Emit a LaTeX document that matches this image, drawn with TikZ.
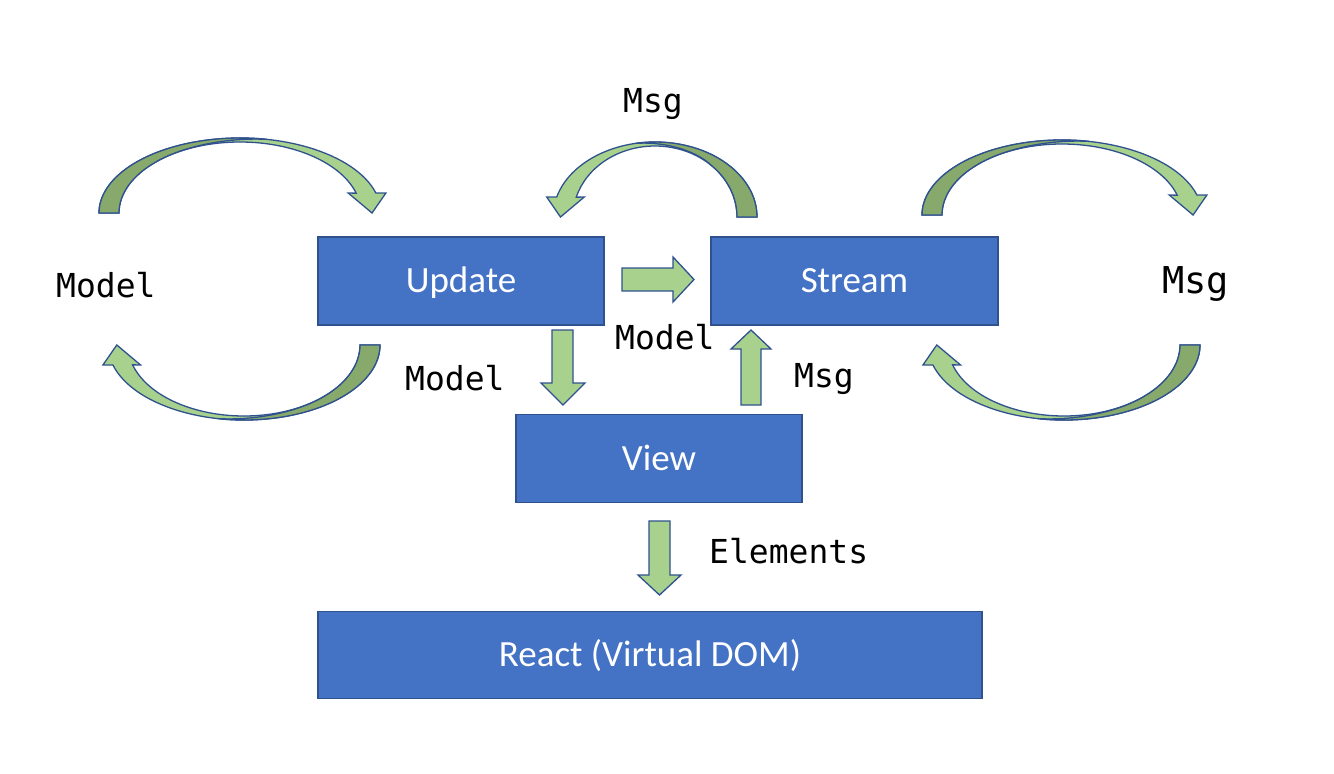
\documentclass[tikz,border=0pt]{standalone}
\usepackage{fontspec}
\setmainfont{Carlito}
\newfontfamily\monofnt{DejaVu Sans Mono}
\definecolor{boxfill}{HTML}{4472C4}
\definecolor{boxline}{HTML}{2F528F}
\definecolor{lightg}{HTML}{A9D18E}
\definecolor{darkg}{HTML}{87A96C}
\tikzset{
  procbox/.style={draw=boxline, fill=boxfill, line width=1.5pt, text=white,
    font=\fontsize{37}{44}\selectfont, text height=23.5pt, text depth=0pt,
    inner sep=0pt, anchor=center},
  lbl/.style={font=\monofnt\fontsize{33}{40}\selectfont, anchor=base west, inner sep=0pt},
  blockarr/.style={draw=boxline, fill=lightg, line width=1.3pt, line join=miter},
  curvlight/.style={draw=boxline, fill=lightg, line width=1.3pt, line join=miter},
  curvdark/.style={draw=boxline, fill=darkg, line width=1.3pt, line join=miter},
}
% curved arrow: #1,#2 tail outer point, #3,#4 direction signs, #5 radius
\newcommand{\curvarrow}[5]{%
  \pgfmathsetmacro{\Ro}{#5}%
  \pgfmathsetmacro{\Ri}{#5-20}%
  \pgfmathsetmacro{\xo}{#5*1.9637}%
  \pgfmathsetmacro{\xin}{#5+0.9603*(#5-20)}%
  \pgfmathsetmacro{\bl}{\xin-8}%
  \pgfmathsetmacro{\br}{\xo+10}%
  \pgfmathsetmacro{\tp}{(\xo+\xin)/2+6}%
  \pgfmathsetmacro{\xb}{#5+0.1908*#5}%
  \pgfmathsetmacro{\xc}{#5-0.6947*(#5-20)}%
  \pgfmathsetmacro{\cax}{0.957*#5}%
  \pgfmathsetmacro{\cbx}{0.624*#5}%
  \begin{scope}[shift={(#1,#2)}, xscale=#3, yscale=#4]
    \filldraw[curvlight] (20,0)
      arc[start angle=180, end angle=343.8, x radius=\Ri, y radius=71]
      -- (\bl,-20) -- (\tp,0) -- (\br,-20) -- (\xo,-20)
      arc[start angle=344.53, end angle=180, x radius=\Ro, y radius=75] -- cycle;
    \filldraw[curvdark] (0,0)
      arc[start angle=180, end angle=281, x radius=\Ro, y radius=75]
      .. controls (\cax,-75.5) and (\cbx,-69) .. (\xc,-51.1)
      arc[start angle=226, end angle=180, x radius=\Ri, y radius=71] -- cycle;
  \end{scope}
}
\begin{document}
\begin{tikzpicture}[x=1pt,y=-1pt]
\useasboundingbox (0,0) rectangle (1334,774);
\fill[white] (0,0) rectangle (1334,774);

% boxes
\node[procbox, minimum width=286, minimum height=88] (update) at (461,281) {Update};
\node[procbox, minimum width=287, minimum height=88] (stream) at (854.5,281) {Stream};
\node[procbox, minimum width=286, minimum height=88] (view) at (659,458.5) {View};
\node[procbox, minimum width=664, minimum height=87] (react) at (650,655) {React (Virtual DOM)};

% straight block arrows
% Update -> Stream
\draw[blockarr] (622,268) -- (673,268) -- (673,257) -- (694,279.5) -- (673,302) -- (673,291) -- (622,291) -- cycle;
% Update -> View
\draw[blockarr] (552,330) -- (573,330) -- (573,383) -- (585,383) -- (563,405) -- (541,383) -- (552,383) -- cycle;
% View -> Stream
\draw[blockarr] (741,405) -- (761,405) -- (761,349) -- (771,349) -- (751,330) -- (731,349) -- (741,349) -- cycle;
% View -> React
\draw[blockarr] (649,521) -- (670,521) -- (670,575) -- (681,575) -- (659.5,595) -- (638,575) -- (649,575) -- cycle;

% curved arrows
\curvarrow{99}{213}{1}{1}{141}
\curvarrow{757}{217}{-1}{1}{102}
\curvarrow{922}{215}{1}{1}{140}
\curvarrow{380}{345}{-1}{-1}{136}
\curvarrow{1200}{345}{-1}{-1}{136}

% labels
\node[lbl] (lmodel) at (56,297) {Model};
\node[lbl] (tmsg) at (623,112) {Msg};
\node[lbl] (umodel) at (405,390) {Model};
\node[lbl] (mmodel) at (615,349) {Model};
\node[lbl] (vmsg) at (794,387) {Msg};
\node[lbl] (elems) at (709,563) {Elements};
\node[lbl, font=\monofnt\fontsize{37}{44}\selectfont] (rmsg) at (1162,293) {Msg};
\end{tikzpicture}
\end{document}
